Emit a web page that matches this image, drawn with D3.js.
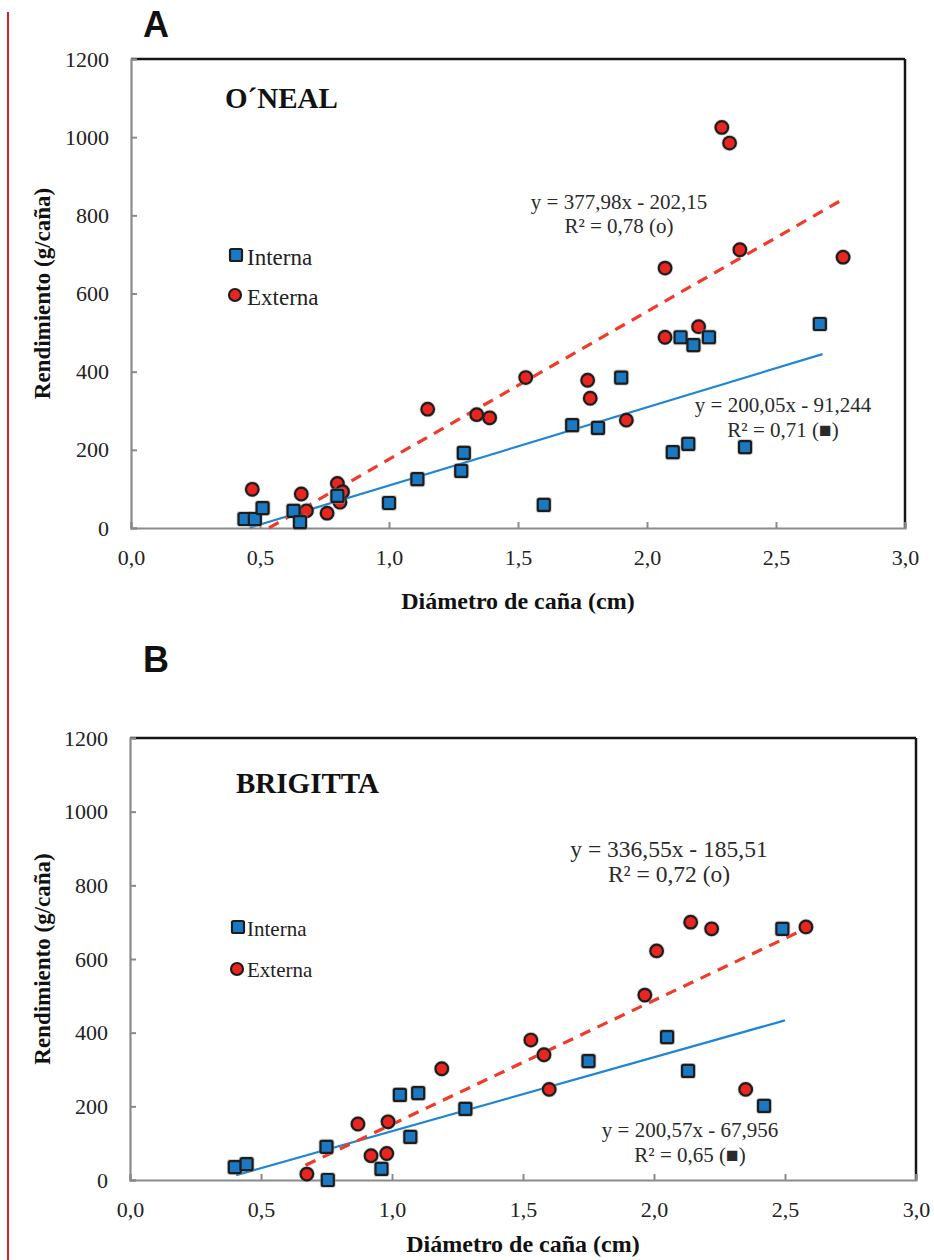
<!DOCTYPE html>
<html>
<head>
<meta charset="utf-8">
<script src="https://cdn.jsdelivr.net/npm/d3@7"></script>
<style>
  html, body { margin: 0; padding: 0; background: #fff; }
  svg { display: block; }
  text { font-family: "Liberation Serif", "Times New Roman", serif; fill: #222; }
</style>
</head>
<body>
<svg id="chart" width="934" height="1260" font-family="Liberation Serif, serif"></svg>
<script>
// ---------- DATA ----------
const xTicks = [0, 0.5, 1.0, 1.5, 2.0, 2.5, 3.0];
const yTicks = [0, 200, 400, 600, 800, 1000, 1200];

// Panel A: O´NEAL
const onealInternaX = [0.44, 0.48, 0.51, 0.63, 0.655, 0.80, 1.00, 1.11, 1.28, 1.29, 1.60, 1.71, 1.81, 1.90, 2.10, 2.16, 2.13, 2.18, 2.24, 2.38, 2.67];
const onealInternaY = [23, 23, 51, 44, 15, 82, 64, 125, 146, 192, 59, 263, 256, 385, 194, 215, 488, 468, 488, 207, 522];
const onealExternaX = [0.47, 0.66, 0.68, 0.76, 0.80, 0.82, 0.81, 1.15, 1.34, 1.39, 1.53, 1.77, 1.78, 1.92, 2.07, 2.20, 2.07, 2.29, 2.32, 2.36, 2.76];
const onealExternaY = [99, 87, 44, 38, 114, 93, 66, 304, 290, 282, 385, 378, 332, 276, 488, 515, 665, 1025, 985, 712, 693];
const onealInternaFit = { slope: 200.05, intercept: -91.244, x0: 0.46, x1: 2.68 };
const onealExternaFit = { slope: 377.98, intercept: -202.15, x0: 0.535, x1: 2.77 };
const onealEquations = [["y = 377,98x - 202,15", "R² = 0,78 (o)"], ["y = 200,05x - 91,244", "R² = 0,71 (■)"]];

// Panel B: BRIGITTA
const brigittaInternaX = [0.40, 0.445, 0.75, 0.755, 0.96, 1.03, 1.10, 1.07, 1.28, 1.75, 2.05, 2.13, 2.42, 2.49];
const brigittaInternaY = [35, 43, 90, 0, 30, 231, 236, 117, 193, 323, 388, 296, 201, 682];
const brigittaExternaX = [0.675, 0.87, 0.92, 0.98, 0.985, 1.19, 1.53, 1.58, 1.60, 2.35, 1.965, 2.01, 2.14, 2.22, 2.58];
const brigittaExternaY = [16, 152, 66, 72, 158, 302, 380, 340, 246, 246, 502, 622, 700, 682, 687];
const brigittaInternaFit = { slope: 200.57, intercept: -67.956, x0: 0.405, x1: 2.50 };
const brigittaExternaFit = { slope: 336.55, intercept: -185.51, x0: 0.67, x1: 2.56 };
const brigittaEquations = [["y = 336,55x - 185,51", "R² = 0,72 (o)"], ["y = 200,57x - 67,956", "R² = 0,65 (■)"]];

const seriesNames = ["Interna", "Externa"];
const xLabel = "Diámetro de caña (cm)";
const yLabel = "Rendimiento (g/caña)";

// ---------- DRAW ----------
const SERIF = "Liberation Serif, Times New Roman, serif";
const svg = d3.select("#chart");
const BLUE = "#1b78c2", RED = "#e8251f", LINE_BLUE = "#1f86d4", LINE_RED = "#f03a2a";
const fmtX = v => d3.format(".1f")(v).replace(".", ",");

// red margin bar
svg.append("line").attr("x1", 8).attr("x2", 8).attr("y1", 12).attr("y2", 1260)
  .attr("stroke", "#d3202b").attr("stroke-width", 2);

const panels = [
  { letter: "A", letterY: 37, title: "O´NEAL", titleX: 225, titleY: 108,
    left: 131, right: 905, top: 59, bottom: 528,
    ix: onealInternaX, iy: onealInternaY, ex: onealExternaX, ey: onealExternaY,
    iFit: onealInternaFit, eFit: onealExternaFit, eq: onealEquations,
    eqPos: [[619, 209, 233, 21], [783, 412, 437, 21]],
    legend: { sx: 236, sy: 255, tx: 247, ty1: 265, ty2: 305, cy: 295, fs: 23 },
    yTitleX: 50, xTitleY: 609 },
  { letter: "B", letterY: 672, title: "BRIGITTA", titleX: 236, titleY: 793,
    left: 130, right: 916, top: 738, bottom: 1180,
    ix: brigittaInternaX, iy: brigittaInternaY, ex: brigittaExternaX, ey: brigittaExternaY,
    iFit: brigittaInternaFit, eFit: brigittaExternaFit, eq: brigittaEquations,
    eqPos: [[669, 857, 882, 23.5], [690, 1137, 1162, 21]],
    legend: { sx: 238, sy: 927, tx: 247, ty1: 936, ty2: 977, cy: 969, fs: 21 },
    yTitleX: 50, xTitleY: 1252 }
];

panels.forEach(p => {
  const x = d3.scaleLinear().domain([0, 3]).range([p.left, p.right]);
  const y = d3.scaleLinear().domain([0, 1200]).range([p.bottom, p.top]);
  const g = svg.append("g");

  // panel letter
  g.append("text").attr("x", 143).attr("y", p.letterY)
    .style("font-family", "'Liberation Sans', Arial, sans-serif")
    .style("font-weight", "bold").style("font-size", "36px").style("fill", "#111")
    .text(p.letter);

  // frame top / right (black)
  g.append("line").attr("x1", p.left).attr("x2", p.right).attr("y1", p.top).attr("y2", p.top)
    .attr("stroke", "#151515").attr("stroke-width", 2.5);
  g.append("line").attr("x1", p.right).attr("x2", p.right).attr("y1", p.top).attr("y2", p.bottom)
    .attr("stroke", "#151515").attr("stroke-width", 2.5);

  // axes (gray, inside ticks)
  const yAxis = d3.axisLeft(y).tickValues(yTicks).tickSize(-6).tickPadding(22).tickFormat(d3.format("d"));
  const yg = g.append("g").attr("transform", `translate(${p.left},0)`).call(yAxis);
  const xAxis = d3.axisBottom(x).tickValues(xTicks).tickSize(-6).tickPadding(22).tickFormat(fmtX);
  const xg = g.append("g").attr("transform", `translate(0,${p.bottom})`).call(xAxis);
  [yg, xg].forEach(a => {
    a.attr("font-family", SERIF).attr("font-size", 22);
    a.select(".domain").attr("stroke", "#8a8a8a").attr("stroke-width", 2.2);
    a.selectAll(".tick line").attr("stroke", "#8a8a8a").attr("stroke-width", 2);
    a.selectAll(".tick text").attr("font-family", SERIF).style("font-family", SERIF)
      .style("font-size", "22px").attr("fill", "#222");
  });
  yg.selectAll(".tick text").attr("x", -22);
  xg.selectAll(".tick text").attr("y", 0).attr("dy", 0).attr("transform", "translate(0,37)");

  // title
  g.append("text").attr("x", p.titleX).attr("y", p.titleY).style("font-family", SERIF)
    .style("font-weight", "bold").style("font-size", "29px").style("fill", "#111").text(p.title);

  // axis titles
  g.append("text").attr("x", (p.left + p.right) / 2).attr("y", p.xTitleY).style("font-family", SERIF)
    .attr("text-anchor", "middle").style("font-weight", "bold").style("font-size", "24px")
    .style("fill", "#111").text(xLabel);
  g.append("text").attr("transform", `translate(${p.yTitleX},${(p.top + p.bottom) / 2}) rotate(-90)`)
    .style("font-family", SERIF)
    .attr("text-anchor", "middle").style("font-weight", "bold").style("font-size", "23px")
    .style("fill", "#111").text(yLabel);

  // regression lines
  const fitLine = (f) => [[f.x0, f.slope * f.x0 + f.intercept], [f.x1, f.slope * f.x1 + f.intercept]];
  const line = d3.line().x(d => x(d[0])).y(d => y(d[1]));
  g.append("path").datum(fitLine(p.iFit)).attr("d", line)
    .attr("fill", "none").attr("stroke", LINE_BLUE).attr("stroke-width", 2.2);
  g.append("path").datum(fitLine(p.eFit)).attr("d", line)
    .attr("fill", "none").attr("stroke", LINE_RED).attr("stroke-width", 3.2)
    .attr("stroke-dasharray", "11,8");

  // points (halo + marker)
  const ipts = p.ix.map((v, i) => [v, p.iy[i]]);
  const epts = p.ex.map((v, i) => [v, p.ey[i]]);
  g.selectAll(".ehalo").data(epts).enter().append("circle")
    .attr("cx", d => x(d[0])).attr("cy", d => y(d[1])).attr("r", 8.2)
    .attr("fill", "#9a9a9a").attr("opacity", 0.45);
  g.selectAll(".ept").data(epts).enter().append("circle")
    .attr("cx", d => x(d[0])).attr("cy", d => y(d[1])).attr("r", 6.3)
    .attr("fill", RED).attr("stroke", "#1d1d1d").attr("stroke-width", 2.2);
  g.selectAll(".ihalo").data(ipts).enter().append("rect")
    .attr("x", d => x(d[0]) - 8).attr("y", d => y(d[1]) - 8).attr("width", 16).attr("height", 16)
    .attr("rx", 3).attr("fill", "#9a9a9a").attr("opacity", 0.45);
  g.selectAll(".ipt").data(ipts).enter().append("rect")
    .attr("x", d => x(d[0]) - 6).attr("y", d => y(d[1]) - 6).attr("width", 12).attr("height", 12)
    .attr("rx", 1.5).attr("fill", BLUE).attr("stroke", "#1d1d1d").attr("stroke-width", 2.2);

  // equations
  p.eq.forEach((lines, k) => {
    const [cx, y1, y2, fs] = p.eqPos[k];
    [y1, y2].forEach((yy, j) => {
      g.append("text").attr("x", cx).attr("y", yy).attr("text-anchor", "middle")
        .style("font-family", SERIF)
        .style("font-size", fs + "px").style("fill", "#2a2a2a").text(lines[j]);
    });
  });

  // legend
  const L = p.legend;
  g.append("rect").attr("x", L.sx - 6).attr("y", L.sy - 6).attr("width", 12).attr("height", 12)
    .attr("rx", 1.5).attr("fill", BLUE).attr("stroke", "#1d1d1d").attr("stroke-width", 2.2);
  g.append("text").attr("x", L.tx).attr("y", L.ty1).style("font-family", SERIF)
    .style("font-size", L.fs + "px").text(seriesNames[0]);
  g.append("circle").attr("cx", L.sx - 1).attr("cy", L.cy).attr("r", 6)
    .attr("fill", RED).attr("stroke", "#1d1d1d").attr("stroke-width", 2.2);
  g.append("text").attr("x", L.tx).attr("y", L.ty2).style("font-family", SERIF)
    .style("font-size", L.fs + "px").text(seriesNames[1]);
});
</script>
</body>
</html>
